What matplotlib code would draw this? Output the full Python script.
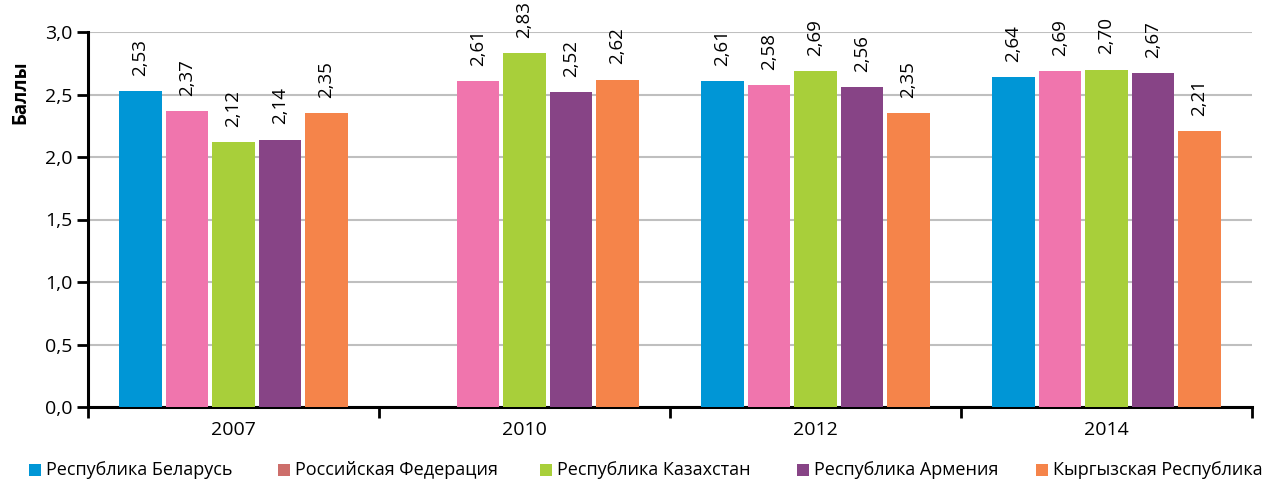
import matplotlib
matplotlib.use("Agg")
import matplotlib.pyplot as plt
import numpy as np
from matplotlib.patches import Rectangle

years = ["2007", "2010", "2012", "2014"]
series_names = ["Республика Беларусь", "Российская Федерация", "Республика Казахстан",
                "Республика Армения", "Кыргызская Республика"]
belarus = [2.53, None, 2.61, 2.64]
russia = [2.37, 2.61, 2.58, 2.69]
kazakhstan = [2.12, 2.83, 2.69, 2.70]
armenia = [2.14, 2.52, 2.56, 2.67]
kyrgyz = [2.35, 2.62, 2.35, 2.21]
series = [belarus, russia, kazakhstan, armenia, kyrgyz]
yticks = [0.0, 0.5, 1.0, 1.5, 2.0, 2.5, 3.0]

bar_colors = ["#0096D6", "#F075AD", "#A8CF3A", "#874486", "#F5844A"]
legend_colors = ["#0096D6", "#CD6E6B", "#A8CF3A", "#874486", "#F5844A"]

plt.rcParams['font.family'] = ['Open Sans', 'DejaVu Sans']

W, H = 1277, 482
fig = plt.figure(figsize=(W / 100, H / 100), dpi=100)
ax = fig.add_axes([88/W, 1-407/H, (1252-88)/W, (407-32)/H])

x = np.arange(len(years))
step = 0.16
width = 0.146
for i, (vals, c) in enumerate(zip(series, bar_colors)):
    off = (i - 2) * step
    for xi, v in zip(x, vals):
        if v is None:
            continue
        ax.bar(xi + off, v, width=width, color=c, zorder=3)
        ax.annotate(f"{v:.2f}".replace(".", ","), (xi + off, v), xytext=(0, 15),
                    textcoords="offset pixels", annotation_clip=False,
                    rotation=90, ha="center", va="bottom", fontsize=13.5, zorder=4)

ax.set_xlim(-0.5, len(years) - 0.5)
ax.set_ylim(0, 3.0)
ax.set_yticks(yticks)
ax.set_yticklabels([f"{t:.1f}".replace(".", ",") for t in yticks], fontsize=14)
ax.yaxis.grid(True, color="#BFBFBF", linewidth=1.5, zorder=0)
ax.set_axisbelow(True)

ax.set_xticks(x)
ax.set_xticklabels(years, fontsize=14)
ax.tick_params(axis="x", which="major", length=0, pad=10)
ax.set_xticks(np.arange(-0.5, len(years), 1.0), minor=True)
ax.tick_params(axis="x", which="minor", length=8, width=2, direction="out")
ax.tick_params(axis="y", length=8, width=2, direction="out", pad=3)

for s in ["top", "right"]:
    ax.spines[s].set_visible(False)
for s in ["left", "bottom"]:
    ax.spines[s].set_linewidth(2.2)
    ax.spines[s].set_color("black")

fig.text(20/W, 1-92/H, "Баллы", rotation=90, ha="center", va="center",
         fontsize=13.5, fontweight="bold")

# legend, drawn entry by entry
leg_x = [29, 278, 540, 797, 1036]
sw = 12
for lx, c, name in zip(leg_x, legend_colors, series_names):
    fig.patches.append(Rectangle((lx / W, 1 - 476 / H), sw / W, sw / H,
                                 transform=fig.transFigure, facecolor=c,
                                 edgecolor="none", figure=fig))
    fig.text((lx + sw + 5) / W, 1 - 470 / H, name, ha="left", va="center",
             fontsize=13)

fig.savefig("out.png", dpi=100)
